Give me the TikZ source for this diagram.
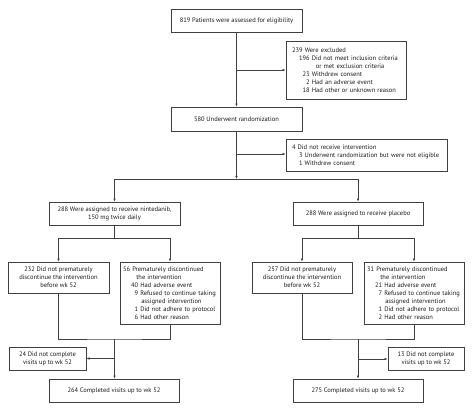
\documentclass[tikz,border=0pt]{standalone}
\usepackage{fontspec}
\setmainfont{PT Sans}
\usetikzlibrary{arrows.meta}
\tikzset{
    box/.style={draw=black!75, line width=0.6pt, text=black!90,
        inner sep=0pt, align=center, font=\fontsize{6.5}{8}\selectfont},
    lbox/.style={box, align=left, inner xsep=6pt},
    arr/.style={-{Latex[length=3.2pt,width=2.6pt]}},
    line/.style={draw=black!75, line width=0.6pt}
}
\newcommand{\ph}[1]{\hphantom{#1}}
\begin{document}
\begin{tikzpicture}[x=1pt,y=-1pt]
	    \useasboundingbox (0,0) rectangle (474,412);
	    % screening and randomization
	    \node[box, minimum width=131, minimum height=23] (elig) at (236.5,20.5)
	        {819 Patients were assessed for eligibility};
	    \node[lbox, text width=108, minimum height=58] (excl) at (346,70)
	        {239 Were excluded\\
	        \hspace*{7pt}196 Did not meet inclusion criteria\\
	        \hspace*{7pt}\ph{196 }\hspace*{4pt}or met exclusion criteria\\
	        \hspace*{7pt}\ph{1}23 Withdrew consent\\
	        \hspace*{7pt}\ph{19}2 Had an adverse event\\
	        \hspace*{7pt}\ph{1}18 Had other or unknown reason};
	    \node[box, minimum width=131, minimum height=24] (rand) at (236.5,119)
	        {580 Underwent randomization};
	    \node[lbox, text width=149, minimum height=32] (noint) at (366.5,155)
	        {4 Did not receive intervention\\
	        \hspace*{7pt}3 Underwent randomization but were not eligible\\
	        \hspace*{7pt}1 Withdrew consent};
	    \coordinate (j1) at (236.5,70);
	    \coordinate (j2) at (236.5,154);
	    \coordinate (split) at (236.5,179);
	    \draw[line,arr] (elig) -- (rand);
	    \draw[line,arr] (j1) -- (excl.west);
	    \draw[line,arr] (rand) -- (split);
	    \draw[line,arr] (j2) -- (noint.west |- j2);
	    % treatment groups
	    \node[box, minimum width=131, minimum height=23] (nint) at (114.5,213.5)
	        {288 Were assigned to receive nintedanib,\\150 mg twice daily};
	    \node[box, minimum width=130, minimum height=23] (plac) at (358,213.5)
	        {288 Were assigned to receive placebo};
	    \draw[line,arr] (split) -| (nint.north);
	    \draw[line,arr] (split) -| (plac.north);
	    % nintedanib arm
	    \node[box, minimum width=101, minimum height=31] (stay1) at (58.5,277.5)
	        {232 Did not prematurely\\discontinue the intervention\\before wk 52};
	    \node[lbox, inner xsep=3pt, text width=94, minimum height=62] (disc1) at (170,293)
	        {56 Prematurely discontinued\\
	        \ph{56 }\hspace*{4pt}the intervention\\
	        \hspace*{8pt}40 Had adverse event\\
	        \hspace*{8pt}\ph{4}9 Refused to continue taking\\
	        \hspace*{8pt}\ph{40 }\hspace*{1pt}assigned intervention\\
	        \hspace*{8pt}\ph{4}1 Did not adhere to protocol\\
	        \hspace*{8pt}\ph{4}6 Had other reason};
	    \node[box, minimum width=77, minimum height=23] (miss1) at (47.5,358.5)
	        {24 Did not complete\\visits up to wk 52};
	    \node[box, minimum width=130, minimum height=23] (done1) at (114,390.5)
	        {264 Completed visits up to wk 52};
	    \coordinate (s1) at (114.5,238);
	    \coordinate (m1) at (114.5,339);
	    \coordinate (b1) at (114.5,358.5);
	    \draw[line] (nint) -- (s1);
	    \draw[line,arr] (s1) -| (stay1.north);
	    \draw[line,arr] (s1) -| (disc1.north);
	    \draw[line] (stay1.south) |- (m1) -| (disc1.south);
	    \draw[line,arr] (m1) -- (done1.north -| m1);
	    \draw[line,arr] (b1) -- (miss1.east);
	    % placebo arm
	    \node[box, minimum width=100, minimum height=31] (stay2) at (302,277.5)
	        {257 Did not prematurely\\discontinue the intervention\\before wk 52};
	    \node[lbox, inner xsep=3pt, text width=94, minimum height=62] (disc2) at (414,293)
	        {31 Prematurely discontinued\\
	        \ph{31 }\hspace*{4pt}the intervention\\
	        \hspace*{8pt}21 Had adverse event\\
	        \hspace*{8pt}\ph{2}7 Refused to continue taking\\
	        \hspace*{8pt}\ph{21 }\hspace*{1pt}assigned intervention\\
	        \hspace*{8pt}\ph{2}1 Did not adhere to protocol\\
	        \hspace*{8pt}\ph{2}2 Had other reason};
	    \node[box, minimum width=76, minimum height=23] (miss2) at (426,358.5)
	        {13 Did not complete\\visits up to wk 52};
	    \node[box, minimum width=130, minimum height=23] (done2) at (358,390.5)
	        {275 Completed visits up to wk 52};
	    \coordinate (s2) at (358,238);
	    \coordinate (m2) at (358,339);
	    \coordinate (b2) at (358,359);
	    \draw[line] (plac) -- (s2);
	    \draw[line,arr] (s2) -| (stay2.north);
	    \draw[line,arr] (s2) -| (disc2.north);
	    \draw[line] (stay2.south) |- (m2) -| (disc2.south);
	    \draw[line,arr] (m2) -- (done2.north);
	    \draw[line,arr] (b2) -- (miss2.west |- b2);
	\end{tikzpicture}
\end{document}
